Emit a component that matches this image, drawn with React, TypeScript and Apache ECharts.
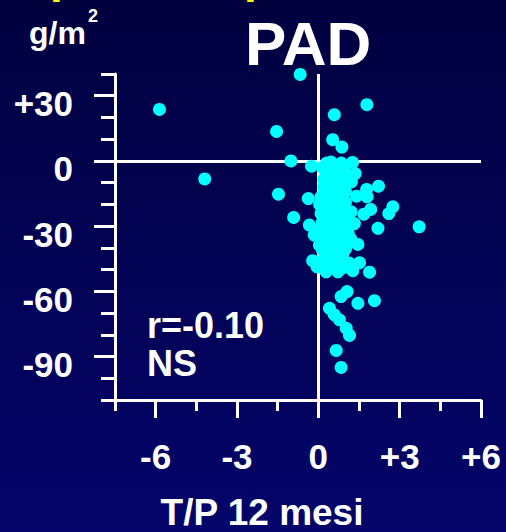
import React, { useEffect, useRef } from "react";
import * as echarts from "echarts";

const xMajorTicks = [-6, -3, 0, 3, 6];
const yMajorTicks = [-90, -60, -30, 0, 30];

const padPoints: number[][] = [
  [-5.86, 23.7], [-0.67, 39.8], [-4.19, -8.3], [-1.54, 13.6], [1.79, 25.9],
  [0.59, 21.3], [0.53, 9.8], [0.87, 6.4], [-1.01, 0], [-0.25, -2.4],
  [-1.47, -15.3], [-0.91, -26], [-0.37, -17.3], [3.72, -30.3], [2.22, -11.6],
  [2.75, -21.1], [2.6, -24.2], [2.2, -31], [1.93, -22.3], [1.68, -24.5],
  [1.78, -13.1], [1.8, -16.5], [1.41, -16.2], [1.33, -28.8], [1.46, -38.4],
  [1.26, -0.7], [1.36, -5.8], [1.22, -9.6], [1.89, -51.2], [2.07, -64.3],
  [1.46, -65.5], [1.06, -60.1], [0.84, -62.4], [0.41, -67.8], [0.59, -70.8],
  [0.78, -73.1], [1.03, -77], [1.15, -80.3], [0.66, -87.2], [0.84, -95],
  [-0.21, -45.9], [-0.05, -48.7], [0.29, -51], [0.72, -51], [1.27, -50.5],
  [1.52, -46.8], [0.9, -43.3], [0.35, -44.8], [1.09, -38.2], [0.1, -37.9],
  [0.59, -39.5], [0.47, -0.5], [0.72, -2], [0.29, -5], [0.59, -5.8],
  [0.35, -9.6], [0.9, -8.9], [0.22, -15], [0.72, -18], [0.35, -21.1],
  [0.9, -21.9], [0.1, -24.2], [1.21, -23.4], [0.22, -24.9], [0.72, -25.7],
  [-0.33, -29.5], [0.22, -30.3], [0.84, -29.5], [-0.15, -34.1], [0.53, -33.3],
  [0.9, -32.6], [0.04, -38.7], [0.66, -37.9], [0.9, -42.5], [0.72, -47.1],
  [1.15, -47.1], [0.3, -1], [0.85, -1], [0.2, -12], [0.6, -13],
  [1.0, -14], [0.45, -17], [1.0, -19], [0.5, -27], [1.05, -27],
  [0.3, -35], [0.75, -30], [1.1, -33], [0.4, -41], [0.15, -28],
  [0.65, -11], [0.95, -4], [0.15, -3], [0.55, -3.5], [0.4, -7],
  [0.8, -6.5], [0.2, -8.5], [0.6, -16], [0.3, -19], [0.85, -14.5],
  [0.1, -16.5], [0.5, -23], [0.95, -24.5], [0.35, -26.5], [0.65, -28],
  [0.05, -31], [0.45, -32], [0.95, -36], [0.25, -36.5], [0.55, -35.5],
  [0.15, -41], [0.7, -41.5], [0.45, -43], [1.0, -40.5], [0.2, -45.5],
  [0.55, -48], [0.95, -49], [1.15, -29], [1.2, -36], [0.05, -20],
  [0.8, -10], [1.05, -7],
];

const FONT = "'Liberation Sans', Arial, sans-serif";

export default function App() {
  const ref = useRef<HTMLDivElement>(null);
  useEffect(() => {
    if (!ref.current) return;
    const chart = echarts.init(ref.current, null, { renderer: "svg" });
    const fmt = (v: number) => (v > 0 ? "+" + v : String(v));
    const labelStyle = { color: "#ffffff", fontSize: 35, fontWeight: "bold" as const, fontFamily: FONT };
    chart.setOption({
      animation: false,
      backgroundColor: {
        type: "linear", x: 0, y: 0, x2: 0, y2: 1,
        colorStops: [
          { offset: 0, color: "#00003f" },
          { offset: 1, color: "#04046a" },
        ],
      },
      grid: { left: 115, right: 25, top: 74, bottom: 132, containLabel: false },
      xAxis: [
        {
          type: "value", min: -7.5, max: 6, interval: 1.5,
          axisLine: { show: true, onZero: false, lineStyle: { color: "#ffffff", width: 3 } },
          axisTick: { show: true, length: 11, lineStyle: { color: "#ffffff", width: 3 } },
          axisLabel: { show: false },
          splitLine: { show: false },
        },
        {
          type: "value", min: -7.5, max: 6, position: "bottom",
          axisLine: { show: false, onZero: false },
          axisTick: { show: true, length: 18, customValues: xMajorTicks, lineStyle: { color: "#ffffff", width: 3 } },
          axisLabel: { show: true, customValues: xMajorTicks, formatter: fmt, margin: 39, ...labelStyle },
          splitLine: { show: false },
        },
      ],
      yAxis: [
        {
          type: "value", min: -110, max: 40, interval: 10,
          axisLine: { show: true, onZero: false, lineStyle: { color: "#ffffff", width: 3 } },
          axisTick: { show: true, length: 14, lineStyle: { color: "#ffffff", width: 3 } },
          axisLabel: { show: false },
          splitLine: { show: false },
        },
        {
          type: "value", min: -110, max: 40, position: "left",
          axisLine: { show: false, onZero: false },
          axisTick: { show: true, length: 21, customValues: yMajorTicks, lineStyle: { color: "#ffffff", width: 3 } },
          axisLabel: { show: true, customValues: yMajorTicks, formatter: fmt, margin: 42, verticalAlign: "top", lineHeight: 16, ...labelStyle },
          splitLine: { show: false },
        },
      ],
      series: [
        {
          type: "scatter",
          xAxisIndex: 0,
          yAxisIndex: 0,
          data: padPoints,
          symbol: "circle",
          symbolSize: 13,
          itemStyle: { color: "#00ffff", opacity: 1 },
          markLine: {
            silent: true,
            symbol: "none",
            label: { show: false },
            lineStyle: { color: "#ffffff", width: 3, type: "solid" },
            data: [{ xAxis: 0 }, { yAxis: 0 }],
            z: 1,
          },
          z: 3,
        },
      ],
      graphic: [
        {
          type: "text", left: 245, top: 12,
          style: { text: "PAD", fill: "#ffffff", font: `bold 62px ${FONT}` },
        },
        {
          type: "text", left: 29, top: 7,
          style: {
            text: "{a|g/m}{b|2}",
            fill: "#ffffff",
            rich: {
              a: { fontSize: 32, fontWeight: "bold", fontFamily: FONT, fill: "#ffffff", verticalAlign: "bottom", lineHeight: 42 },
              b: { fontSize: 18, fontWeight: "bold", fontFamily: FONT, fill: "#ffffff", verticalAlign: "top", lineHeight: 42, padding: [0, 0, 0, 2] },
            },
          },
        },
        {
          type: "text", left: 147, top: 307,
          style: { text: "r=-0.10", fill: "#ffffff", font: `bold 36px ${FONT}` },
        },
        {
          type: "text", left: 147, top: 345,
          style: { text: "NS", fill: "#ffffff", font: `bold 36px ${FONT}` },
        },
        {
          type: "text", x: 262, y: 494, style: { text: "T/P 12 mesi", fill: "#ffffff", font: `bold 37px ${FONT}`, align: "center", verticalAlign: "top" },
        },
        {
          type: "rect", shape: { x: 53, y: 0, width: 7, height: 2, r: 1 }, style: { fill: "#ffff00" },
        },
        {
          type: "rect", shape: { x: 247, y: 0, width: 7, height: 2, r: 1 }, style: { fill: "#ffff00" },
        },
      ],
    });
    return () => chart.dispose();
  }, []);
  return <div ref={ref} style={{ position: "fixed", left: 0, top: 0, width: 506, height: 532 }} />;
}
